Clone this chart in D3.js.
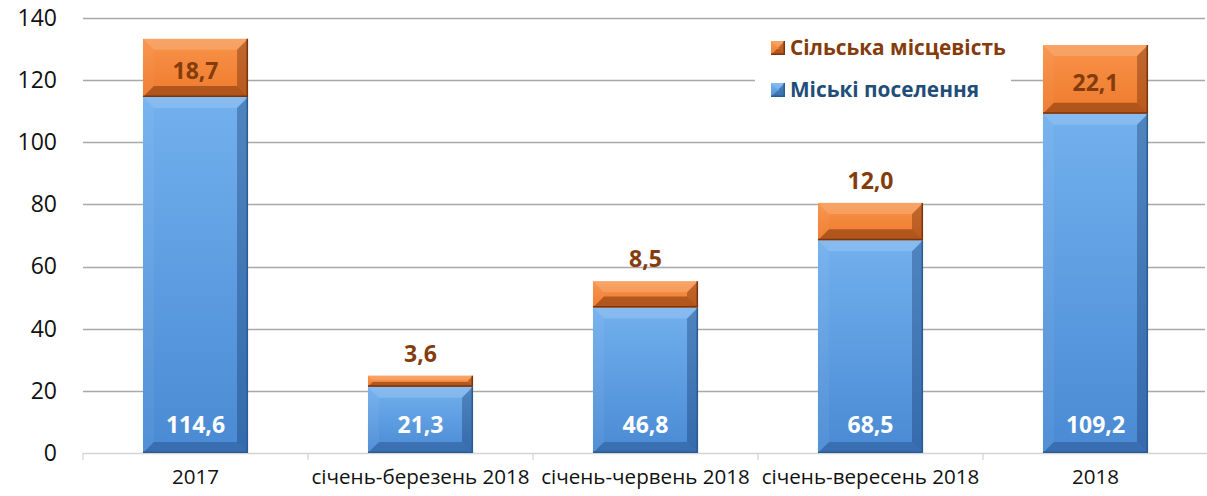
<!DOCTYPE html>
<html>
<head>
<meta charset="utf-8">
<script src="https://cdn.jsdelivr.net/npm/d3@7"></script>
<style>
  html, body { margin: 0; padding: 0; background: #ffffff; }
  svg { display: block; font-family: "Open Sans", "Noto Sans", sans-serif; }
</style>
</head>
<body>
<svg id="chart" width="1207" height="496"></svg>
<script>
// Chart data
const categories = ["2017", "січень-березень 2018", "січень-червень 2018", "січень-вересень 2018", "2018"];
const urbanValues = [114.6, 21.3, 46.8, 68.5, 109.2];
const ruralValues = [18.7, 3.6, 8.5, 12.0, 22.1];
const yTicks = [0, 20, 40, 60, 80, 100, 120, 140];
const seriesNames = ["Сільська місцевість", "Міські поселення"];

const fmt = v => v.toFixed(1).replace(".", ",");

const svg = d3.select("#chart");
const W = 1207, H = 496;
const margin = { left: 83, right: -1, top: 18, bottom: 43 };

const x = d3.scaleBand()
  .domain(categories)
  .range([margin.left, W - margin.right])
  .paddingInner(0.533)
  .paddingOuter(0.2665);

const y = d3.scaleLinear()
  .domain([0, 140])
  .range([H - margin.bottom, margin.top]);

// Gradients
const defs = svg.append("defs");
function vGrad(id, stops) {
  const g = defs.append("linearGradient").attr("id", id)
    .attr("x1", 0).attr("y1", 0).attr("x2", 0).attr("y2", 1);
  stops.forEach(([o, c]) => g.append("stop").attr("offset", o).attr("stop-color", c));
}
vGrad("blueFace", [[0, "#72b0ee"], [1, "#4a8ad3"]]);
vGrad("orangeFace", [[0, "#f8934a"], [1, "#ee7a2c"]]);

// Gridlines
const gridRight = 1205;
svg.append("g").attr("class", "grid")
  .selectAll("line")
  .data(yTicks.filter(t => t > 0))
  .join("line")
  .attr("x1", margin.left).attr("x2", gridRight)
  .attr("y1", d => Math.round(y(d)) + 0.5).attr("y2", d => Math.round(y(d)) + 0.5)
  .attr("stroke", "#a9a9a9").attr("stroke-width", 1.3);

// Y axis labels
const yAxis = d3.axisLeft(y).tickValues(yTicks).tickSize(0).tickPadding(26);
const yg = svg.append("g").attr("transform", `translate(${margin.left},0)`).call(yAxis);
yg.select(".domain").remove();
yg.selectAll("text").attr("font-size", 23).attr("fill", "#111111")
  .attr("font-family", "'Open Sans', sans-serif");

// X axis baseline with category boundary ticks
const xg = svg.append("g").attr("transform", `translate(0,${y(0)})`);
const step = x.step();
const edges = d3.range(categories.length + 1).map(i => margin.left + i * step);
xg.append("line").attr("x1", margin.left).attr("x2", W).attr("y1", 0.5).attr("y2", 0.5)
  .attr("stroke", "#d4d4d4").attr("stroke-width", 1.3);
xg.selectAll("line.tk").data(edges).join("line").attr("class", "tk")
  .attr("x1", d => d).attr("x2", d => d).attr("y1", 0).attr("y2", 7)
  .attr("stroke", "#d4d4d4").attr("stroke-width", 1.3);
xg.selectAll("text").data(categories).join("text")
  .attr("x", d => x(d) + x.bandwidth() / 2)
  .attr("y", 31)
  .attr("text-anchor", "middle")
  .attr("font-size", 20.6)
  .attr("fill", "#111111")
  .text(d => d);

// Beveled bar segment
function bevelBar(g, x0, y0, w, h, pal) {
  const b = Math.max(1, Math.min(11, h / 2.3, w / 2));
  const x1 = x0 + w, y1 = y0 + h;
  g.append("rect").attr("x", x0).attr("y", y0).attr("width", w).attr("height", h)
    .attr("fill", pal.face);
  const poly = (pts, fill) => g.append("polygon")
    .attr("points", pts.map(p => p.join(",")).join(" ")).attr("fill", fill);
  poly([[x0, y0], [x1, y0], [x1 - b, y0 + b], [x0 + b, y0 + b]], pal.top);
  poly([[x0, y0], [x0 + b, y0 + b], [x0 + b, y1 - b], [x0, y1]], pal.left);
  poly([[x1, y0], [x1, y1], [x1 - b, y1 - b], [x1 - b, y0 + b]], pal.right);
  poly([[x0, y1], [x0 + b, y1 - b], [x1 - b, y1 - b], [x1, y1]], pal.bottom);
  // dark rim on the right and bottom edges
  g.append("path")
    .attr("d", `M${x1 - 0.75},${y0} L${x1 - 0.75},${y1 - 0.75} L${x0},${y1 - 0.75}`)
    .attr("fill", "none").attr("stroke", pal.rim).attr("stroke-width", 1.5);
}

const bluePal = {
  face: "url(#blueFace)", top: "rgba(255,255,255,0.16)", left: "rgba(255,255,255,0.05)",
  right: "rgba(10,40,90,0.32)", bottom: "rgba(10,40,90,0.28)", rim: "#2a5c93"
};
const orangePal = {
  face: "url(#orangeFace)", top: "rgba(255,255,255,0.16)", left: "rgba(255,255,255,0.04)",
  right: "rgba(90,30,0,0.35)", bottom: "rgba(90,30,0,0.42)", rim: "#7a3510"
};

const bars = svg.append("g").attr("class", "bars");
categories.forEach((c, i) => {
  const g = bars.append("g");
  const bx = x(c), bw = x.bandwidth();
  const u = urbanValues[i], r = ruralValues[i];
  bevelBar(g, bx, y(u), bw, y(0) - y(u), bluePal);
  bevelBar(g, bx, y(u + r), bw, y(u) - y(u + r), orangePal);
});

// Value labels: urban near the base, rural inside the segment when it is tall enough
const labels = svg.append("g").attr("font-weight", 700).attr("font-size", 23)
  .attr("text-anchor", "middle");
categories.forEach((c, i) => {
  const cx = x(c) + x.bandwidth() / 2;
  const u = urbanValues[i], r = ruralValues[i];
  labels.append("text").attr("x", cx).attr("y", y(0) - 28)
    .attr("dy", "0.36em").attr("fill", "#ffffff").text(fmt(u));
  const segH = y(u) - y(u + r);
  const ly = segH > 48 ? (y(u) + y(u + r)) / 2 + 3 : y(u + r) - 22;
  labels.append("text").attr("x", cx).attr("y", ly)
    .attr("dy", "0.36em").attr("fill", "#843c0c").text(fmt(r));
});

// Legend
const legend = svg.append("g").attr("transform", "translate(755,30)");
legend.append("rect").attr("x", 0).attr("y", 0).attr("width", 256).attr("height", 82)
  .attr("fill", "#ffffff");
const legendItems = [
  { name: seriesNames[0], pal: orangePal, color: "#843c0c", y: 18 },
  { name: seriesNames[1], pal: bluePal, color: "#1f4e79", y: 60 }
];
legendItems.forEach(it => {
  const g = legend.append("g");
  bevelBar(g, 16, it.y - 7, 14, 14, it.pal);
  g.append("text").attr("x", 35).attr("y", it.y).attr("dy", "0.36em")
    .attr("font-size", 20.8).attr("font-weight", 700).attr("fill", it.color)
    .text(it.name);
});
</script>
</body>
</html>
